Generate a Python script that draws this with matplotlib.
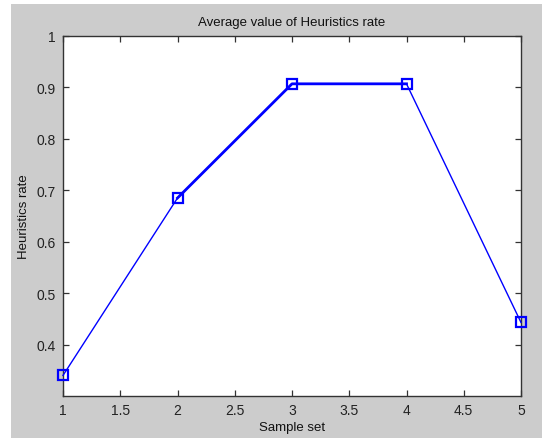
import matplotlib.pyplot as plt
from matplotlib.patches import Rectangle

# values
sample_set = [1, 2, 3, 4, 5]
heuristics_rate = [0.340, 0.685, 0.907, 0.907, 0.443]
x_ticks = [1, 1.5, 2, 2.5, 3, 3.5, 4, 4.5, 5]
y_ticks = [0.4, 0.5, 0.6, 0.7, 0.8, 0.9, 1]
y_tick_labels = ["0.4", "0.5", "0.6", "0.7", "0.8", "0.9", "1"]

plt.rcParams['font.family'] = ['Liberation Sans', 'DejaVu Sans']
plt.rcParams['font.size'] = 10

fig = plt.figure(figsize=(5.42, 4.39), dpi=100)
fig.patch.set_facecolor('white')
# MATLAB style grey figure area, with a thin white margin left and top
fig.patches.append(Rectangle((11 / 542, 0), 1, 1 - 5 / 439, transform=fig.transFigure,
                             facecolor='#cccccc', edgecolor='none', zorder=-10))

ax = fig.add_axes([63 / 542, 42 / 439, 458 / 542, 360 / 439])
ax.set_facecolor('white')

# whole line thin, then the middle part drawn thicker as in the picture
ax.plot(sample_set, heuristics_rate, color='#0000ff', linewidth=1.0, clip_on=False, zorder=3)
ax.plot(sample_set[1:4], heuristics_rate[1:4], color='#0000ff', linewidth=2.0,
        clip_on=False, zorder=3)
ax.plot(sample_set, heuristics_rate, linestyle='none', marker='s', markersize=7,
        markerfacecolor='none', markeredgecolor='#0000ff', markeredgewidth=1.6,
        clip_on=False, zorder=4)

ax.set_xlim(1, 5)
ax.set_ylim(0.3, 1)
ax.set_xticks(x_ticks)
ax.set_xticklabels([f"{t:g}" for t in x_ticks])
ax.set_yticks(y_ticks)
ax.set_yticklabels(y_tick_labels)

for s in ax.spines.values():
    s.set_color('#333333')
    s.set_linewidth(1.0)
ax.tick_params(direction='in', length=4, width=0.9, color='#333333',
               top=True, right=True, labelcolor='#222222', pad=5)

ax.set_title('Average value of Heuristics rate', fontsize=9.5, color='#111111', pad=8)
ax.set_xlabel('Sample set', fontsize=9.5, color='#111111', labelpad=3)
ax.set_ylabel('Heuristics rate', fontsize=9.5, color='#111111', labelpad=5)

fig.savefig('out.png', dpi=100, facecolor=fig.get_facecolor())
